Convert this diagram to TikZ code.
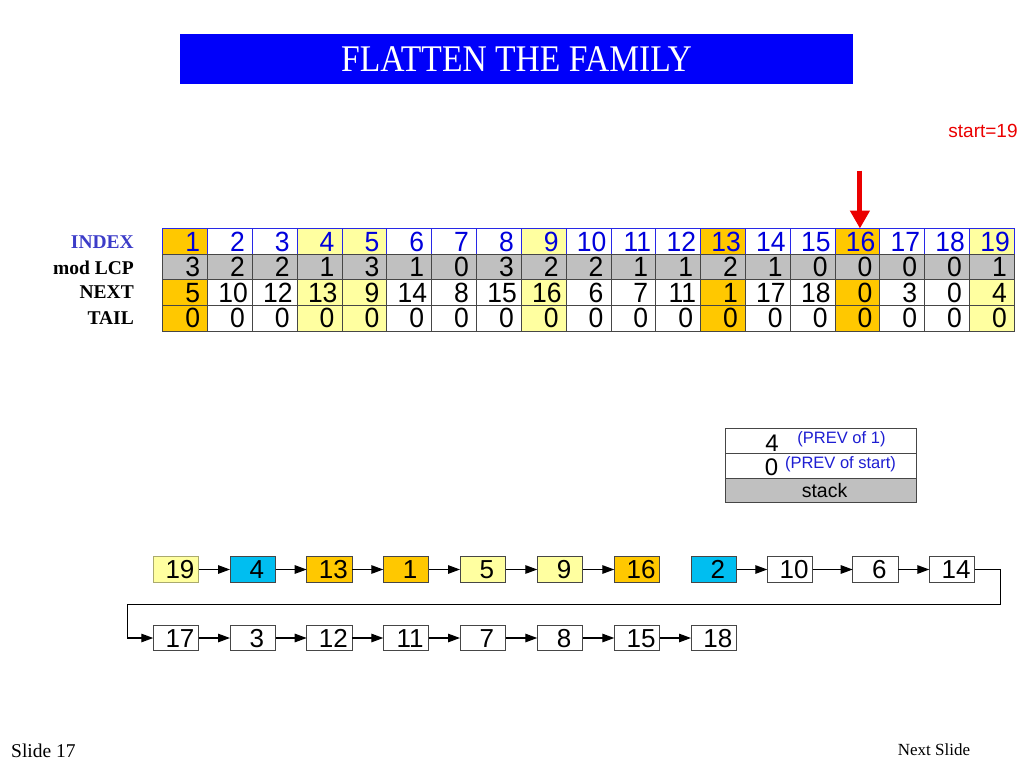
\documentclass[tikz,border=0pt]{standalone}
\usepackage{fontspec}
\usepackage{graphicx}
\setmainfont{Liberation Serif}
\newfontfamily\hv{Liberation Sans}
\usetikzlibrary{arrows.meta}
\definecolor{titleblue}{RGB}{0,0,250}
\definecolor{gold}{RGB}{255,200,0}
\definecolor{lyellow}{RGB}{255,255,160}
\definecolor{lgray}{RGB}{192,192,192}
\definecolor{cyanbox}{RGB}{0,190,240}
\definecolor{idxblue}{RGB}{0,0,220}
\definecolor{cellblue}{RGB}{40,40,230}
\definecolor{lblblue}{RGB}{60,60,200}
\definecolor{arrred}{RGB}{235,0,0}
\definecolor{border}{RGB}{70,70,70}
\definecolor{prevblue}{RGB}{30,30,210}
\tikzset{
  cell/.style={draw=border, line width=0.8pt, minimum width=44.82pt, minimum height=25.6pt,
    inner ysep=0pt, inner xsep=4.5pt, text width=35.82pt, align=right, outer sep=0pt,
    font=\hv\fontsize{26.5}{26.5}\selectfont},
  rowlabel/.style={anchor=east, inner sep=0pt, font=\bfseries\fontsize{19.5}{19.5}\selectfont},
  cbox/.style={draw=border, line width=0.8pt, minimum width=45.5pt, minimum height=25.5pt,
    inner sep=0pt, outer sep=0pt, font=\hv\fontsize{26}{26}\selectfont},
  conn/.style={line width=1.3pt, -{Triangle[length=12pt,width=8.5pt]}},
  stackrow/.style={draw=border, line width=0.8pt, minimum width=191pt, minimum height=24.8pt,
    inner sep=0pt, outer sep=0pt},
}
\newcommand\cb[1]{\raisebox{0pt}[18.5pt][0pt]{\kern8pt #1}}
\newcommand\tn[1]{\raisebox{0pt}[19.6pt][0pt]{\scalebox{1}[1.05]{#1\ifnum#1<10 \kern3pt\fi}}}
\begin{document}
\begin{tikzpicture}[x=1pt,y=-1pt]
\useasboundingbox (0,0) rectangle (1024,768);
% title
\node[fill=titleblue, minimum width=673pt, minimum height=50pt, inner sep=0pt, text=white,
  font=\fontsize{33.6}{33.6}\selectfont] (title) at (516.5,59) {\raisebox{-1pt}{\scalebox{1}[1.12]{FLATTEN THE FAMILY}}};
% start label
\node[text=arrred, font=\hv\fontsize{19}{19}\selectfont, inner sep=0pt] (start) at (983,131) {start=19};
% row labels
\node[rowlabel, text=lblblue] (lidx) at (134,242) {INDEX};
\node[rowlabel] (llcp) at (134,267.5) {mod LCP};
\node[rowlabel] (lnxt) at (134,292.5) {NEXT};
\node[rowlabel] (ltl) at (134,318) {TAIL};
% table
\foreach \i/\c/\m/\n in {1/gold/3/5,2/white/2/10,3/white/2/12,4/lyellow/1/13,5/lyellow/3/9,6/white/1/14,7/white/0/8,8/white/3/15,9/lyellow/2/16,10/white/2/6,11/white/1/7,12/white/1/11,13/gold/2/1,14/white/1/17,15/white/0/18,16/gold/0/0,17/white/0/3,18/white/0/0,19/lyellow/1/4}
{
  \pgfmathsetmacro\cx{162.7+(\i-0.5)*44.82}
  \node[cell, draw=cellblue, fill=\c, text=idxblue] (idx\i) at (\cx,241.3) {\tn{\i}};
}
\foreach \i/\c/\m/\n in {1/gold/3/5,2/white/2/10,3/white/2/12,4/lyellow/1/13,5/lyellow/3/9,6/white/1/14,7/white/0/8,8/white/3/15,9/lyellow/2/16,10/white/2/6,11/white/1/7,12/white/1/11,13/gold/2/1,14/white/1/17,15/white/0/18,16/gold/0/0,17/white/0/3,18/white/0/0,19/lyellow/1/4}
{
  \pgfmathsetmacro\cx{162.7+(\i-0.5)*44.82}
  \node[cell, fill=lgray] (lcp\i) at (\cx,266.9) {\tn{\m}};
  \node[cell, fill=\c] (nxt\i) at (\cx,292.5) {\tn{\n}};
  \node[cell, fill=\c] (tl\i) at (\cx,318.1) {\tn{0}};
}
% red arrow
\coordinate (arrtop) at ([xshift=2.5pt,yshift=58pt]idx16.north);
\draw[arrred, line width=5pt, -{Triangle[length=18pt,width=19pt]}] (arrtop) -- ([xshift=2.5pt]idx16.north);
% stack
\node[stackrow, fill=white] (s1) at (821,440.8) {};
\node[stackrow, fill=white] (s2) at (821,465.6) {};
\node[stackrow, fill=lgray, font=\hv\fontsize{19.5}{19.5}\selectfont] (s3) at (821,490.3) {\kern7pt stack};
\node[inner sep=0pt, font=\hv\fontsize{24}{24}\selectfont] (s1v) at (772,443.5) {4};
\node[inner sep=0pt, text=prevblue, font=\hv\fontsize{16.5}{16.5}\selectfont] (s1t) at (841.5,439.5) {(PREV of 1)};
\node[inner sep=0pt, font=\hv\fontsize{24}{24}\selectfont] (s2v) at (771.5,467.5) {0};
\node[inner sep=0pt, text=prevblue, font=\hv\fontsize{16.5}{16.5}\selectfont] (s2t) at (840.5,464.5) {(PREV of start)};
% chain row 1
\node[cbox, fill=lyellow, draw={rgb,255:red,170;green,170;blue,110}] (c19) at (176,569.5) {\cb{19}};
\node[cbox, fill=cyanbox] (c4) at (252.75,569.5) {\cb{4}};
\node[cbox, fill=gold] (c13) at (329.45,569.5) {\cb{13}};
\node[cbox, fill=gold] (c1) at (406.05,569.5) {\cb{1}};
\node[cbox, fill=lyellow] (c5) at (482.75,569.5) {\cb{5}};
\node[cbox, fill=lyellow] (c9) at (560.05,569.5) {\cb{9}};
\node[cbox, fill=gold] (c16) at (637.05,569.5) {\cb{16}};
\node[cbox, fill=cyanbox] (c2) at (713.75,569.5) {\cb{2}};
\node[cbox, fill=white] (c10) at (790.05,569.5) {\cb{10}};
\node[cbox, fill=white] (c6) at (875.45,569.5) {\cb{6}};
\node[cbox, fill=white] (c14) at (952.05,569.5) {\cb{14}};
% chain row 2
\node[cbox, fill=white] (d17) at (176,638) {\cb{17}};
\node[cbox, fill=white] (d3) at (252.75,638) {\cb{3}};
\node[cbox, fill=white] (d12) at (329.45,638) {\cb{12}};
\node[cbox, fill=white] (d11) at (406.05,638) {\cb{11}};
\node[cbox, fill=white] (d7) at (482.75,638) {\cb{7}};
\node[cbox, fill=white] (d8) at (560.05,638) {\cb{8}};
\node[cbox, fill=white] (d15) at (637.05,638) {\cb{15}};
\node[cbox, fill=white] (d18) at (713.75,638) {\cb{18}};
% connectors
\draw[conn] (c19.east) -- (c4.west);
\draw[conn] (c4.east) -- (c13.west);
\draw[conn] (c13.east) -- (c1.west);
\draw[conn] (c1.east) -- (c5.west);
\draw[conn] (c5.east) -- (c9.west);
\draw[conn] (c9.east) -- (c16.west);
\draw[conn] (c2.east) -- (c10.west);
\draw[conn] (c10.east) -- (c6.west);
\draw[conn] (c6.east) -- (c14.west);
\coordinate (wrapR) at (1000.7,604.3);
\coordinate (wrapL) at (127.3,604.3);
\draw[conn] (c14.east) -| (wrapR) -- (wrapL) |- (d17.west);
\draw[conn] (d17.east) -- (d3.west);
\draw[conn] (d3.east) -- (d12.west);
\draw[conn] (d12.east) -- (d11.west);
\draw[conn] (d11.east) -- (d7.west);
\draw[conn] (d7.east) -- (d8.west);
\draw[conn] (d8.east) -- (d15.west);
\draw[conn] (d15.east) -- (d18.west);
% footer
\node[anchor=west, inner sep=0pt, font=\fontsize{19.5}{19.5}\selectfont] (slide) at (11,751) {Slide 17};
\node[inner sep=0pt, font=\fontsize{17}{17}\selectfont] (next) at (934,750) {Next Slide};
\end{tikzpicture}
\end{document}
